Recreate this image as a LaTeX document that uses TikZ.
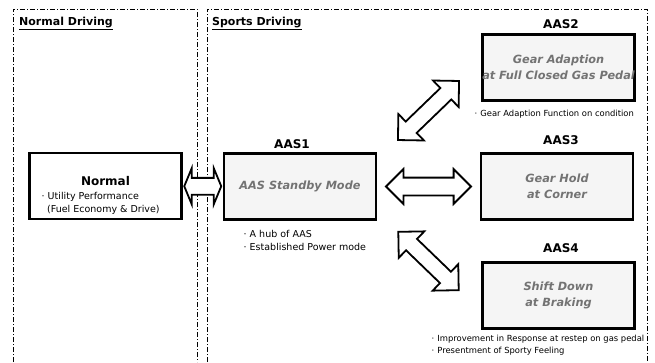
\documentclass[tikz,border=0pt]{standalone}
\usepackage{fontspec}
\setmainfont{DejaVu Sans}
\usetikzlibrary{shapes.arrows,calc}
\newcommand\pkt{·\hspace{3pt}}
\tikzset{
	bereich/.style={line width=0.8pt, dash pattern=on 5pt off 2pt on 1pt off 2pt},
	kasten/.style={draw, line width=2.6pt, minimum width=152pt, minimum height=66pt, inner sep=0pt},
	aaskasten/.style={kasten, fill=black!4, align=center, text=black!55, font=\fontsize{11.3}{16.5}\selectfont\bfseries\itshape},
	aasname/.style={font=\fontsize{12}{14}\selectfont\bfseries, anchor=base, inner sep=0pt},
	titel/.style={font=\fontsize{11}{13}\selectfont\bfseries, anchor=base west, inner sep=0pt},
	notiz/.style={font=\fontsize{9.5}{13}\selectfont, align=left, anchor=north west, inner sep=0pt},
	kleinnotiz/.style={notiz, font=\fontsize{8.4}{12}\selectfont},
	pfeil/.style={double arrow, draw, fill=white, line width=1.8pt, inner xsep=0pt, outer sep=0pt},
}
\begin{document}
\begin{tikzpicture}[x=1pt, y=-1pt]
		\useasboundingbox (0, 0) rectangle (655, 362);
		% Bereiche
		\draw [bereich] (13, 362) |- (197, 9) -- (197, 362);
		\draw [bereich] (207, 362) |- (647, 9) -- (647, 362);
		\node [titel] (tnormal) at (19, 25) {\underline{Normal Driving}};
		\node [titel] (tsport) at (212, 25) {\underline{Sports Driving}};
		% Kasten Normal
		\node [kasten] (normal) at (105.5, 186) {};
		\node [font=\fontsize{12}{14}\selectfont\bfseries] (normaltxt) at (105.5, 181) {Normal};
		\node [notiz] (normalnotiz) at (41.5, 192) {\pkt Utility Performance\\\hspace{5.5pt}(Fuel Economy \& Drive)};
		% AAS Kaesten
		\node [aaskasten] (aas1) at (300, 186.5) {AAS Standby Mode};
		\node [aaskasten] (aas2) at (558.5, 67.5) {Gear Adaption\\at Full Closed Gas Pedal};
		\node [aaskasten] (aas3) at (557, 186.5) {Gear Hold\\at Corner};
		\node [aaskasten] (aas4) at (558.5, 295.5) {Shift Down\\at Braking};
		% Namen
		\node [aasname] (n1) at (292, 148) {AAS1};
		\node [aasname] (n2) at (561, 28) {AAS2};
		\node [aasname] (n3) at (561, 144) {AAS3};
		\node [aasname] (n4) at (561, 252) {AAS4};
		% Notizen
		\node [notiz] (notiz1) at (243.5, 230.5) {\pkt A hub of AAS\\\pkt Established Power mode};
		\node [kleinnotiz] (notiz2) at (474.5, 109.5) {\pkt Gear Adaption Function on condition};
		\node [kleinnotiz] (notiz4) at (431.5, 334.5) {\pkt Improvement in Response at restep on gas pedal\\\pkt Presentment of Sporty Feeling};
		% Pfeile
		\node [pfeil, minimum height=37pt, minimum width=34pt, inner ysep=7.5pt, double arrow head extend=9.5pt, double arrow tip angle=135] (p01) at ($(normal.east)!0.5!(aas1.west)$) {};
		\node [pfeil, minimum height=85pt, minimum width=33pt, inner ysep=8pt, double arrow head extend=8.5pt] (p13) at ($(aas1.east)!0.5!(aas3.west)$) {};
		\node [pfeil, minimum height=85pt, minimum width=35pt, inner ysep=7pt, double arrow head extend=10.5pt, rotate=44] (p12) at (428.5, 110.5) {};
		\node [pfeil, minimum height=84pt, minimum width=35pt, inner ysep=7pt, double arrow head extend=10.5pt, rotate=-44] (p14) at (428.5, 261) {};
	\end{tikzpicture}
\end{document}
